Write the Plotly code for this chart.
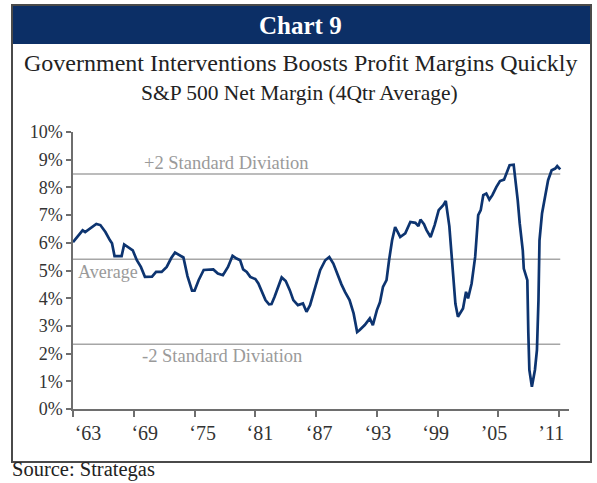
import plotly.graph_objects as go

# ---- data ----
years = [1963.0, 1963.5, 1963.95, 1964.2, 1964.7, 1965.3, 1965.7, 1966.2, 1966.65, 1966.85,
         1967.1, 1967.8, 1968.05, 1968.45, 1968.9, 1969.3, 1969.7, 1970.1, 1970.8, 1971.2,
         1971.75, 1972.25, 1972.7, 1973.07, 1973.5, 1973.9, 1974.3, 1974.75, 1975.0, 1975.4,
         1975.9, 1976.85, 1977.3, 1977.8, 1978.3, 1978.75, 1979.15, 1979.5, 1979.8, 1980.15,
         1980.5, 1981.0, 1981.3, 1981.6, 1982.0, 1982.35, 1982.6, 1982.9, 1983.3, 1983.6,
         1984.0, 1984.4, 1984.75, 1985.2, 1985.7, 1986.05, 1986.4, 1986.9, 1987.4, 1987.9,
         1988.3, 1988.7, 1989.2, 1989.5, 1989.85, 1990.3, 1990.7, 1991.05, 1991.3, 1991.8,
         1992.3, 1992.6, 1993.0, 1993.3, 1993.6, 1993.95, 1994.2, 1994.5, 1994.8, 1995.3,
         1995.8, 1996.3, 1996.8, 1997.1, 1997.3, 1997.65, 1997.9, 1998.3, 1998.7, 1999.1,
         1999.55, 1999.8, 2000.15, 2000.4, 2000.75, 2001.0, 2001.5, 2001.8, 2002.0, 2002.35,
         2002.7, 2003.0, 2003.25, 2003.5, 2003.8, 2004.1, 2004.4, 2004.8, 2005.15, 2005.55,
         2005.9, 2006.1, 2006.5, 2006.65, 2006.9, 2007.1, 2007.4, 2007.5, 2007.85, 2007.95,
         2008.05, 2008.3, 2008.6, 2008.8, 2008.95, 2009.05, 2009.3, 2009.6, 2009.9, 2010.25,
         2010.6, 2010.8, 2011.1]
net_margin = [6.02, 6.25, 6.45, 6.39, 6.52, 6.68, 6.64, 6.39, 6.09, 5.98,
              5.52, 5.52, 5.94, 5.85, 5.73, 5.37, 5.13, 4.77, 4.78, 4.95,
              4.95, 5.13, 5.45, 5.65, 5.55, 5.47, 4.80, 4.27, 4.27, 4.65,
              5.02, 5.04, 4.89, 4.83, 5.13, 5.53, 5.43, 5.37, 5.04, 4.95,
              4.77, 4.69, 4.53, 4.29, 3.93, 3.78, 3.79, 4.05, 4.41, 4.75,
              4.62, 4.29, 3.93, 3.75, 3.81, 3.51, 3.75, 4.35, 5.01, 5.37,
              5.49, 5.25, 4.77, 4.50, 4.23, 3.93, 3.45, 2.78, 2.85, 3.03,
              3.27, 3.03, 3.57, 3.85, 4.41, 4.65, 5.37, 6.09, 6.57, 6.21,
              6.34, 6.75, 6.72, 6.60, 6.84, 6.67, 6.46, 6.21, 6.64, 7.18,
              7.36, 7.51, 6.60, 5.40, 3.80, 3.33, 3.63, 4.23, 3.99, 4.53,
              5.49, 7.00, 7.18, 7.72, 7.78, 7.56, 7.72, 8.02, 8.23, 8.28,
              8.62, 8.80, 8.82, 8.38, 7.54, 6.70, 5.73, 5.07, 4.65, 2.73,
              1.41, 0.80, 1.41, 2.13, 3.93, 6.09, 7.06, 7.66, 8.26, 8.62,
              8.68, 8.77, 8.65]

average = 5.41
plus_2sd = 8.48
minus_2sd = 2.34

tick_years = [1963, 1969, 1975, 1981, 1987, 1993, 1999, 2005, 2011]
tick_labels = ["\u201863", "\u201869", "\u201875", "\u201881", "\u201887",
               "\u201893", "\u201899", "\u201905", "\u201911"]
y_ticks = list(range(0, 11))
y_labels = [f"{v}%" for v in y_ticks]

# ---- layout geometry ----
W, H = 597, 483
ML, MR, MT, MB = 73, 28, 132, 74
PW, PH = W - ML - MR, H - MT - MB
PX_PER_YEAR = 10.13
X_RANGE = [1963, 1963 + PW / PX_PER_YEAR]
# in the reference the year labels sit slightly off their ticks (pixels)
label_shift_px = [15, 11, 8, 4.5, 3, 1, -2, -4.5, -8]
label_pos = [t + s / PX_PER_YEAR for t, s in zip(tick_years, label_shift_px)]

def px(x):
    return (x - ML) / PW

def py(y):
    return (H - MB - y) / PH

FONT = "Liberation Serif"
NAVY = "#0c2f66"
LINE = "#0d3470"
REF = "#a6a6a6"
AXIS = "#6e6e6e"

fig = go.Figure()
x0, x1 = years[0], years[-1]
for val in [plus_2sd, average, minus_2sd]:
    fig.add_trace(go.Scatter(x=[x0, x1], y=[val, val], mode="lines",
                             line=dict(color=REF, width=1.5), hoverinfo="skip",
                             showlegend=False))
fig.add_trace(go.Scatter(x=years, y=net_margin, mode="lines",
                         line=dict(color=LINE, width=2.7), showlegend=False))

shapes = [
    dict(type="rect", xref="paper", yref="paper", x0=px(12), x1=px(591), y0=py(462), y1=py(5),
         line=dict(color="#4a4a4a", width=2), fillcolor="rgba(0,0,0,0)", layer="above"),
    dict(type="rect", xref="paper", yref="paper", x0=px(12), x1=px(591), y0=py(44), y1=py(5),
         line=dict(width=0), fillcolor=NAVY, layer="below"),
]

annotations = [
    dict(text="<b>Chart 9</b>", x=px(300), y=py(25), xref="paper", yref="paper",
         showarrow=False, font=dict(family=FONT, size=25, color="white"),
         xanchor="center", yanchor="middle"),
    dict(text="Government Interventions Boosts Profit Margins Quickly", x=px(301), y=py(63),
         xref="paper", yref="paper", showarrow=False,
         font=dict(family=FONT, size=24, color="#222222"), xanchor="center", yanchor="middle"),
    dict(text="S&amp;P 500 Net Margin (4Qtr Average)", x=px(299), y=py(93),
         xref="paper", yref="paper", showarrow=False,
         font=dict(family=FONT, size=21.5, color="#222222"), xanchor="center", yanchor="middle"),
    dict(text="+2 Standard Diviation", x=px(226), y=py(163), xref="paper", yref="paper",
         showarrow=False, font=dict(family=FONT, size=18.5, color="#9a9a9a"),
         xanchor="center", yanchor="middle"),
    dict(text="Average", x=px(76), y=py(272), xref="paper", yref="paper",
         showarrow=False, font=dict(family=FONT, size=18, color="#9a9a9a"),
         xanchor="left", yanchor="middle"),
    dict(text="-2 Standard Diviation", x=px(222), y=py(356), xref="paper", yref="paper",
         showarrow=False, font=dict(family=FONT, size=18.5, color="#9a9a9a"),
         xanchor="center", yanchor="middle"),
    dict(text="Source: Strategas", x=px(10), y=py(469), xref="paper", yref="paper",
         showarrow=False, font=dict(family=FONT, size=20.5, color="#222222"),
         xanchor="left", yanchor="middle"),
]

fig.update_layout(
    width=W, height=H,
    margin=dict(l=ML, r=MR, t=MT, b=MB),
    paper_bgcolor="white", plot_bgcolor="white",
    shapes=shapes, annotations=annotations,
    xaxis=dict(range=X_RANGE, tickvals=tick_years, ticktext=[""] * len(tick_years),
               showgrid=False, zeroline=False, showline=True, linecolor=AXIS, linewidth=1.5,
               ticks="outside", ticklen=6, tickcolor=AXIS, tickwidth=1.5),
    xaxis2=dict(range=X_RANGE, overlaying="x", anchor="y", side="bottom",
                tickvals=label_pos, ticktext=tick_labels,
                showgrid=False, zeroline=False, showline=False,
                ticks="outside", ticklen=6, tickcolor="rgba(0,0,0,0)",
                tickfont=dict(family=FONT, size=20, color="#333333")),
    yaxis=dict(range=[0, 10], tickvals=y_ticks, ticktext=y_labels,
               showgrid=False, zeroline=False, showline=True, linecolor=AXIS, linewidth=1.5,
               ticks="outside", ticklen=5, tickcolor=AXIS, tickwidth=1.5,
               tickfont=dict(family=FONT, size=18, color="#333333")),
)
# invisible trace to activate the label axis
fig.add_trace(go.Scatter(x=[x0], y=[None], xaxis="x2", showlegend=False, hoverinfo="skip"))

fig.write_html("out.html", config={"displayModeBar": False},
               post_script="document.body.style.margin='0';")
